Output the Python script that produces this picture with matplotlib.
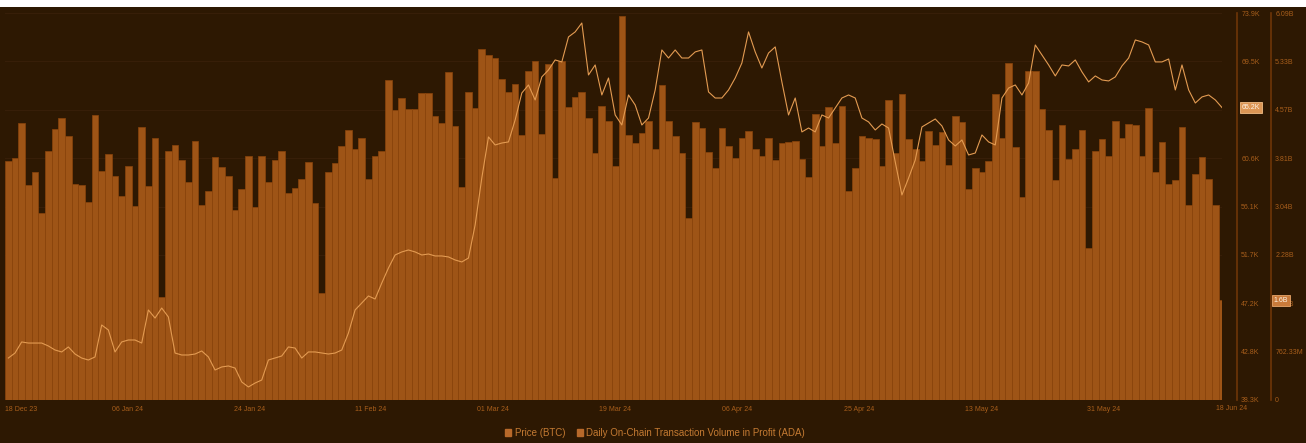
import numpy as np
import pandas as pd
import matplotlib
matplotlib.use('Agg')
import matplotlib.pyplot as plt
from matplotlib.patches import Patch, Rectangle

plt.rcParams['font.family'] = ['Liberation Sans', 'DejaVu Sans']

# daily bars, 18 Dec 2023 onwards
dates = pd.date_range('2023-12-18', periods=183, freq='D')

# daily on-chain transaction volume in profit (ADA), billions
volume = [
    3.77, 3.81, 4.37, 3.39, 3.59, 2.95, 3.92, 4.27, 4.44, 4.16,
    3.40, 3.39, 3.12, 4.49, 3.61, 3.88, 3.53, 3.21, 3.69, 3.06,
    4.30, 3.37, 4.13, 1.62, 3.92, 4.02, 3.78, 3.44, 4.08, 3.07,
    3.29, 3.83, 3.67, 3.53, 2.99, 3.32, 3.84, 3.04, 3.84, 3.44,
    3.78, 3.92, 3.26, 3.34, 3.48, 3.75, 3.10, 1.69, 3.59, 3.73,
    4.00, 4.25, 3.96, 4.13, 3.48, 3.84, 3.92, 5.04, 4.57,
    4.76, 4.59, 4.59, 4.84, 4.84, 4.48, 4.37, 5.17, 4.32, 3.36,
    4.85, 4.60, 5.53, 5.44, 5.39, 5.06, 4.85, 4.98, 4.18, 5.18,
    5.34, 4.19, 5.29, 3.50, 5.34, 4.62, 4.77, 4.85, 4.44, 3.89,
    4.63, 4.40, 3.69, 6.05, 4.18, 4.05, 4.21, 4.40, 3.96, 4.96,
    4.40, 4.16, 3.89, 2.87, 4.38, 4.29, 3.91, 3.66, 4.29, 4.00,
    3.81, 4.13, 4.24, 3.96, 3.84, 4.13, 3.78, 4.05, 4.07, 4.08,
    3.80, 3.51, 4.51, 4.00, 4.62, 4.05, 4.63, 3.29, 3.66, 4.16,
    4.13, 4.11, 3.69, 4.73, 3.89, 4.82, 4.11, 3.96, 3.77, 4.24,
    4.02, 4.22, 3.70, 4.48, 4.38, 3.32, 3.66, 3.59, 3.77, 4.82,
    4.13, 5.31, 3.99, 3.20, 5.18, 5.18, 4.59, 4.25, 3.47, 4.33,
    3.80, 3.96, 4.25, 2.40, 3.92, 4.11, 3.84, 4.40, 4.13, 4.35,
    4.33, 3.84, 4.60, 3.59, 4.07, 3.40, 3.47, 4.30, 3.07, 3.56,
    3.83, 3.48, 3.07, 1.57,
]

# BTC price, thousands USD
price = [
    42.16, 42.62, 43.64, 43.54, 43.54, 43.54, 43.27, 42.90, 42.72, 43.18,
    42.53, 42.16, 41.98, 42.26, 45.20, 44.74, 42.72, 43.64, 43.82, 43.82,
    43.54, 46.58, 45.84, 46.76, 45.94, 42.62, 42.44, 42.44, 42.53, 42.81,
    42.26, 41.06, 41.34, 41.43, 41.24, 39.96, 39.50, 39.86, 40.14, 41.98,
    42.16, 42.35, 43.18, 43.08, 42.16, 42.72, 42.72, 42.62, 42.53, 42.62,
    42.90, 44.46, 46.58, 47.22, 47.87, 47.59, 49.06, 50.44, 51.64, 51.92,
    52.10, 51.92, 51.64, 51.73, 51.55, 51.55, 51.46, 51.18, 51.00, 51.36,
    54.40, 58.72, 62.50, 61.76, 61.94, 62.04, 64.06, 66.54, 67.28, 65.90,
    68.02, 68.66, 69.58, 69.40, 71.70, 72.16, 72.98, 68.20, 69.12, 66.36,
    67.92, 64.52, 63.60, 66.36, 65.44, 63.60, 64.24, 66.82, 70.50, 69.76,
    70.50, 69.76, 69.76, 70.32, 70.50, 66.64, 66.08, 66.08, 66.82, 67.92,
    69.30, 72.16, 70.32, 68.84, 70.22, 70.78, 67.56, 64.52, 66.08, 62.96,
    63.32, 62.96, 64.52, 64.24, 65.16, 66.08, 66.36, 66.08, 64.24, 63.88,
    63.14, 63.69, 63.32, 60.20, 57.16, 58.72, 60.38, 63.42, 63.78, 64.15,
    63.51, 62.22, 61.67, 62.22, 60.84, 61.02, 62.68, 62.04, 61.76, 66.08,
    67.00, 67.28, 66.36, 67.46, 70.96, 70.04, 69.12, 68.11, 69.12, 69.03,
    69.58, 68.48, 67.56, 68.11, 67.74, 67.65, 68.02, 69.03, 69.76, 71.42,
    71.24, 70.96, 69.40, 69.40, 69.67, 66.82, 69.12, 66.82, 65.62, 66.18,
    66.36, 65.90, 65.20,
]

date_labels = ['18 Dec 23', '06 Jan 24', '24 Jan 24', '11 Feb 24', '01 Mar 24',
               '19 Mar 24', '06 Apr 24', '25 Apr 24', '13 May 24', '31 May 24']
end_label = '18 Jun 24'
price_labels = ['38.3K', '42.8K', '47.2K', '51.7K', '56.1K', '60.6K', '65.0K', '69.5K', '73.9K']
vol_labels = ['0', '762.33M', '1.52B', '2.28B', '3.04B', '3.81B', '4.57B', '5.33B', '6.09B']
price_min, price_max = 38.3, 73.9
vol_max = 6.0987

BG = '#2d1802'
BAR = '#9e5416'
BAR_EDGE = '#8a440b'
LINE = '#e39b52'
TXT = '#a85e1b'
SPINE = '#6e3608'
GRID = '#3a200a'

W, H = 1306, 443
PT = 0.72  # points per pixel at dpi 100
fig = plt.figure(figsize=(W / 100, H / 100), dpi=100, facecolor=BG)
fig.patches.append(Rectangle((0, 1 - 7 / H), 1, 7 / H, transform=fig.transFigure,
                             fc='white', ec='none'))

# plot box in pixels: x 5..1222, y 7..400
ax = fig.add_axes([5 / W, 43 / H, 1217 / W, 393 / H])
ax.set_facecolor(BG)
x = np.arange(len(dates))
ax.bar(x, volume, width=1.0, align='edge', color=BAR, edgecolor=BAR_EDGE, linewidth=0.5)
ax.set_xlim(0, len(dates) - 0.5)
# the top tick sits 6px under the box top
ax.set_ylim(0, vol_max * 393 / 387)

# price line on its own axis
ax_p = ax.twinx()
ax_p.plot(x + 0.5, price, color=LINE, linewidth=0.8)
ax_p.set_ylim(price_min, price_min + (price_max - price_min) * 393 / 387)

# volume axis: far right
for s in ['left', 'top', 'bottom']:
    ax.spines[s].set_visible(False)
ax.yaxis.tick_right()
ax.spines['right'].set_position(('outward', 49 * PT))
ax.spines['right'].set_color(SPINE)
ax.spines['right'].set_linewidth(1.2)
ax.spines['right'].set_bounds(0, vol_max)
ax.set_yticks(np.linspace(0, vol_max, 9))
ax.set_yticklabels(vol_labels)
ax.tick_params(axis='y', length=0, pad=3, labelsize=5, labelcolor=TXT)
ax.grid(axis='y', color=GRID, linewidth=0.6)
ax.set_axisbelow(True)

ax.set_xticks(np.arange(len(date_labels)) * 18.3)
ax.set_xticklabels(date_labels)
ax.tick_params(axis='x', length=0, pad=4, labelsize=5, labelcolor=TXT)
ax.get_xticklabels()[0].set_ha('left')
ax.annotate(end_label, xy=(1, 0), xycoords='axes fraction', xytext=(10, -8),
            textcoords='offset pixels', ha='center', va='center', fontsize=5, color=TXT)

# price axis: just right of the plot
for s in ['left', 'top', 'bottom']:
    ax_p.spines[s].set_visible(False)
ax_p.spines['right'].set_position(('outward', 15 * PT))
ax_p.spines['right'].set_color(SPINE)
ax_p.spines['right'].set_linewidth(1.2)
ax_p.spines['right'].set_bounds(price_min, price_max)
ax_p.set_yticks(np.linspace(price_min, price_max, 9))
ax_p.set_yticklabels(price_labels)
ax_p.tick_params(axis='y', length=0, pad=3, labelsize=5, labelcolor=TXT)

# last value markers (they cover the tick label under them, as in the source)
ax_p.annotate('{:.1f}K'.format(price[-1]), xy=(1, price[-1]), xycoords=('axes fraction', 'data'),
              xytext=(29, 0), textcoords='offset pixels', ha='center', va='center',
              fontsize=5, color='#fff3e6', zorder=10,
              bbox=dict(boxstyle='square,pad=0.3', fc='#dc9655', ec='#f2bd85', lw=0.6))
ax.annotate('{:.1f}B'.format(volume[-1]), xy=(1, volume[-1]), xycoords=('axes fraction', 'data'),
            xytext=(59, 0), textcoords='offset pixels', ha='center', va='center',
            fontsize=5, color='#fff3e6', zorder=10,
            bbox=dict(boxstyle='square,pad=0.3', fc='#c97a3a', ec='#e8a66a', lw=0.6))

handles = [Patch(color='#b8692a'), Patch(color='#b8692a')]
fig.legend(handles, ['Price (BTC)', 'Daily On-Chain Transaction Volume in Profit (ADA)'],
           loc='center', bbox_to_anchor=(655 / W, 1 - 433 / H), ncol=2, frameon=False,
           fontsize=7, labelcolor='#c47a32', handlelength=0.6, handleheight=0.6,
           handletextpad=0.4, columnspacing=1.2)

fig.savefig('out.png', dpi=100, facecolor=BG)
